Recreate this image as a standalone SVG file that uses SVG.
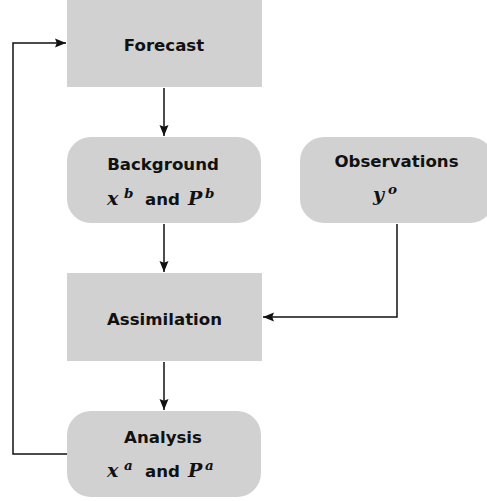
<svg xmlns="http://www.w3.org/2000/svg" width="487" height="501" viewBox="0 0 487 501">
<defs>
<style>
.box{fill:#d1d1d1;stroke:none}
.lbl{font-family:"DejaVu Sans",sans-serif;font-weight:bold;font-size:16.6px;fill:#111;text-anchor:middle}
.m{font-family:"DejaVu Serif",serif;font-weight:bold;font-style:italic;font-size:19px;fill:#111}
.s{font-family:"DejaVu Serif",serif;font-weight:bold;font-style:italic;font-size:13.5px;fill:#111}
.and{font-family:"DejaVu Sans",sans-serif;font-weight:bold;font-size:16.6px;fill:#111}
.c{fill:none;stroke:#111;stroke-width:1.5}
</style>
<marker id="ah" markerUnits="userSpaceOnUse" markerWidth="12" markerHeight="10" refX="11" refY="5" orient="auto" viewBox="0 0 12 10">
<path d="M0,0.5 L11,5 L0,9.5 L1.8,5 Z" fill="#111"/>
</marker>
</defs>
<g id="connectors">
<path class="c" d="M164,88 V136" marker-end="url(#ah)"/>
<path class="c" d="M164,224 V272" marker-end="url(#ah)"/>
<path class="c" d="M164,362 V410" marker-end="url(#ah)"/>
<path class="c" d="M397,224 V317 H263" marker-end="url(#ah)"/>
<path class="c" d="M67,454 H13 V43 H66" marker-end="url(#ah)"/>
</g>
<g id="forecast">
<rect class="box" x="67" y="0" width="195" height="87"/>
<text class="lbl" x="164" y="51">Forecast</text>
</g>
<g id="background">
<rect class="box" x="67" y="137" width="194" height="86" rx="24"/>
<text class="lbl" x="163" y="170">Background</text>
<text><tspan class="m" x="107" y="205">x</tspan><tspan class="s" x="124" y="198">b</tspan><tspan class="and" x="145" y="205">and</tspan><tspan class="m" x="188" y="205">P</tspan><tspan class="s" x="205" y="198">b</tspan></text>
</g>
<g id="observations">
<rect class="box" x="300" y="137" width="194" height="86" rx="24"/>
<text class="lbl" x="396.5" y="167">Observations</text>
<text><tspan class="m" x="373" y="201">y</tspan><tspan class="s" x="388" y="194">o</tspan></text>
</g>
<g id="assimilation">
<rect class="box" x="67" y="273" width="195" height="88"/>
<text class="lbl" x="164.5" y="325">Assimilation</text>
</g>
<g id="analysis">
<rect class="box" x="67" y="411" width="194" height="86" rx="24"/>
<text class="lbl" x="163" y="443">Analysis</text>
<text><tspan class="m" x="107" y="477">x</tspan><tspan class="s" x="124" y="470">a</tspan><tspan class="and" x="145" y="477">and</tspan><tspan class="m" x="188" y="477">P</tspan><tspan class="s" x="205" y="470">a</tspan></text>
</g>
</svg>
